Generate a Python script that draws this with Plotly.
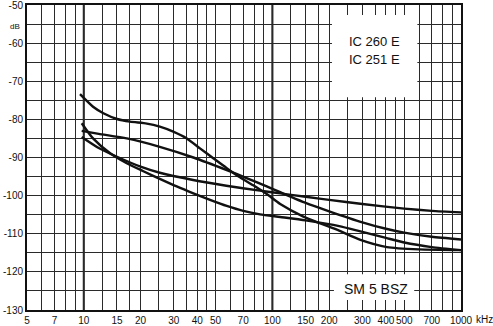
import plotly.graph_objects as go
import numpy as np

# ---- data ----
freq_A = [9.55, 11.2, 12.7, 15, 17.6, 21.6, 25.3, 29.8, 35.2, 41.3, 48.6, 57.3, 67.3, 79.2, 93.3, 110, 146, 226, 293, 405, 600, 1000]
db_A   = [-73.4, -76.7, -78.4, -79.9, -80.6, -81.1, -81.9, -83.2, -85.0, -87.6, -90.2, -92.8, -95.2, -97.3, -99.6, -102.2, -105.5, -109.2, -111.6, -113.5, -114.1, -114.3]

freq_B = [9.75, 12, 16.9, 25.3, 38.1, 57.3, 73, 93.3, 110, 150, 200, 300, 400, 500, 700, 1000]
db_B   = [-83.0, -83.8, -85.0, -87.2, -90.0, -93.3, -95.4, -97.6, -99.1, -101.9, -104.1, -107.0, -108.7, -109.7, -110.8, -111.5]

freq_C = [9.75, 11.2, 13.8, 16.9, 20.7, 25.3, 31.1, 38.1, 46.7, 57.3, 70.1, 86, 110, 150, 226, 293, 400, 500, 700, 1000]
db_C   = [-81.0, -85.0, -88.9, -91.5, -93.6, -95.6, -97.6, -99.4, -101.1, -102.7, -104.0, -104.9, -105.6, -106.5, -108.0, -109.4, -111.1, -112.3, -113.5, -114.3]

freq_D = [9.75, 12, 15, 20, 25.3, 38, 57, 86, 110, 150, 200, 300, 500, 700, 1000]
db_D   = [-84.6, -87.5, -89.8, -92.4, -94.0, -95.9, -97.4, -98.7, -99.4, -100.3, -101.1, -102.2, -103.4, -104.0, -104.4]

x_label_vals = [5, 7, 10, 15, 20, 30, 40, 50, 70, 100, 150, 200, 300, 400, 500, 700, 1000]
x_label_text = ["5", "7", "10", "15", "20", "30", "40", "50", "70", "100", "150", "200", "300", "400", "500", "700", "1000"]
x_grid_minor = [6, 8, 9, 12.5, 17.5, 25, 35, 45, 60, 80, 90, 125, 175, 250, 350, 450, 600, 800, 900]
y_label_vals = [-130, -120, -110, -100, -90, -80, -70, -60, -50]
y_label_text = ["-130", "-120", "-110", "-100", "-90", "-80", "-70", "-60", "-50"]
y_grid_minor = [-125, -115, -105, -95, -85, -75, -65, -55]

series = [(freq_A, db_A), (freq_B, db_B), (freq_C, db_C), (freq_D, db_D)]

fig = go.Figure()
for fx, fy in series:
    fig.add_trace(go.Scatter(x=fx, y=fy, mode="lines",
                             line=dict(color="#111", width=2.4, shape="spline", smoothing=0.6),
                             showlegend=False, hoverinfo="skip"))

FONT = "Liberation Sans, Arial, sans-serif"
grid_col = "#2a2a2a"

fig.update_layout(
    width=493, height=326,
    margin=dict(l=27, r=32, t=5, b=16, autoexpand=False),
    paper_bgcolor="white", plot_bgcolor="white",
    font=dict(family=FONT, size=10, color="#111"),
    xaxis=dict(type="log", range=[np.log10(5), 3], automargin=False,
               tickmode="array", tickvals=x_label_vals, ticktext=x_label_text, tickangle=0,
               ticklabeloverflow="allow",
               showgrid=True, gridcolor=grid_col, gridwidth=1,
               ticks="", ticklen=0,
               showline=True, linecolor="#111", linewidth=2, mirror=True,
               tickfont=dict(size=10, family=FONT),
               minor=dict(tickmode="array", tickvals=x_grid_minor, showgrid=True, gridcolor=grid_col, gridwidth=1, ticks=""),
               zeroline=False),
    yaxis=dict(range=[-130, -50], automargin=False,
               tickmode="array", tickvals=y_label_vals, ticktext=y_label_text,
               ticklabeloverflow="allow",
               showgrid=True, gridcolor=grid_col, gridwidth=1,
               ticks="", ticklen=0,
               showline=True, linecolor="#111", linewidth=2, mirror=True,
               tickfont=dict(size=10, family=FONT),
               minor=dict(tickmode="array", tickvals=y_grid_minor, showgrid=True, gridcolor=grid_col, gridwidth=1, ticks=""),
               zeroline=False),
)

# thicker decade lines
for xv in [10, 100]:
    fig.add_shape(type="line", xref="x", yref="paper", x0=xv, x1=xv, y0=0, y1=1,
                  line=dict(color="#111", width=2), layer="below")

# white label boxes hiding grid
fig.add_shape(type="rect", xref="x", yref="y", x0=207, x1=587, y0=-74.2, y1=-52.6,
              fillcolor="white", line=dict(width=0), layer="above")
fig.add_shape(type="rect", xref="x", yref="y", x0=212, x1=565, y0=-127.4, y1=-120.6,
              fillcolor="white", line=dict(width=0), layer="above")

def note(x, y, text, size, xanchor="center", yanchor="middle", **kw):
    fig.add_annotation(xref="paper", yref="paper", x=x, y=y, text=text, showarrow=False,
                       xanchor=xanchor, yanchor=yanchor,
                       font=dict(size=size, family=FONT, color="#111"), **kw)

note(0.8007, 0.8787, "IC 260 E", 13)
note(0.8007, 0.8197, "IC 251 E", 13)
note(0.804, 0.0689, "SM 5 BSZ", 14)
note(-0.0276, 0.928, "dB", 8)
note(1.03, 0, "kHz", 10, xanchor="left", yanchor="top", yshift=-2)

fig.write_html("out.html")
